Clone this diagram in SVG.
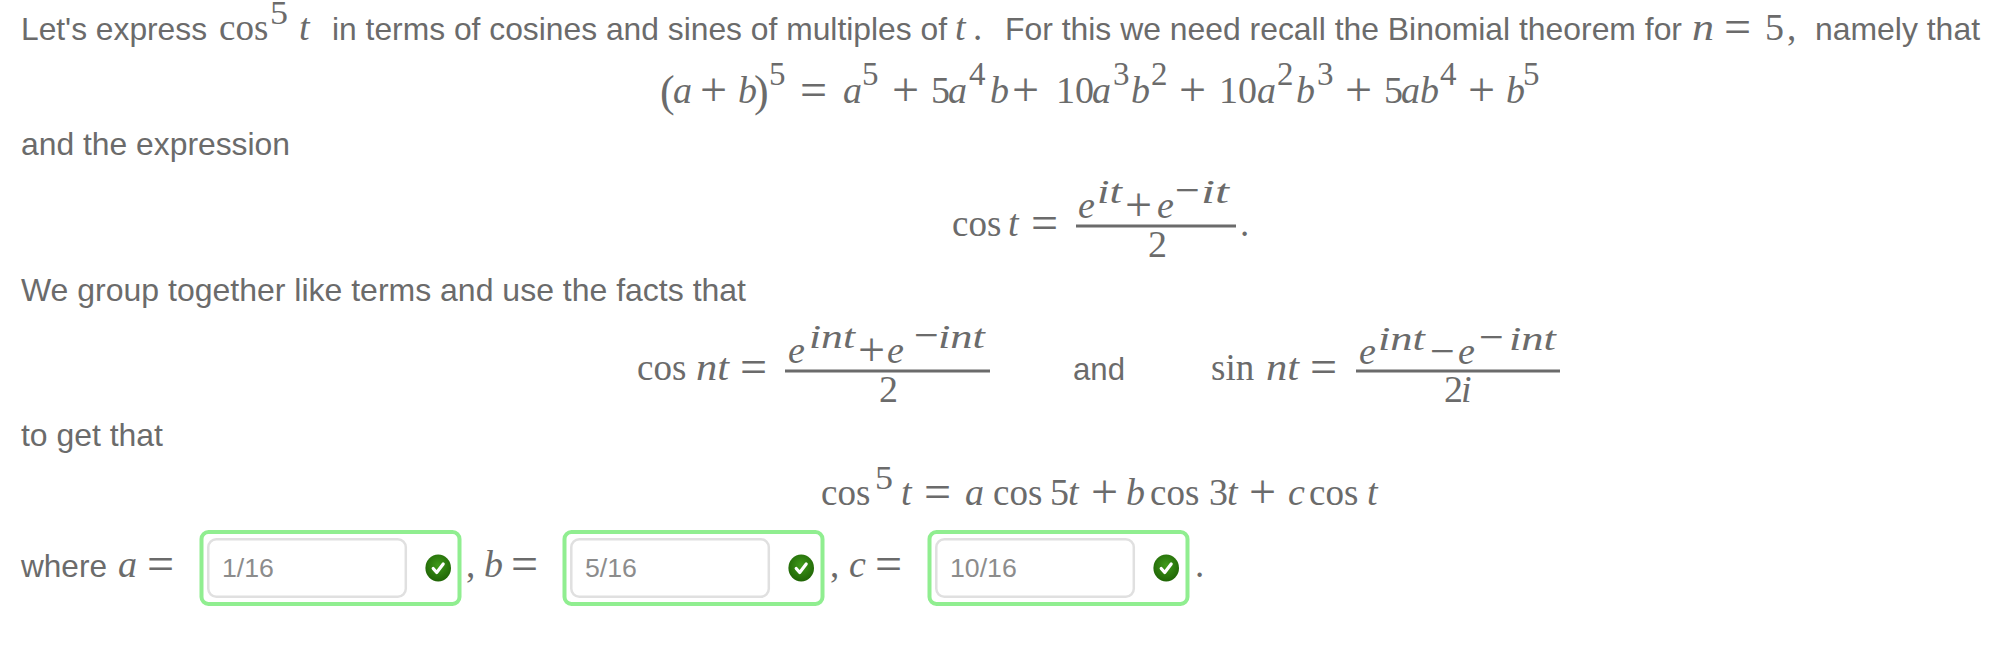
<svg xmlns="http://www.w3.org/2000/svg" width="1995" height="656" viewBox="0 0 1995 656">
<style>
text{fill:#6b6b6b;white-space:pre}
.s{font:31.7px "Liberation Sans",Arial,sans-serif}
.r{font:37px "Liberation Serif","Times New Roman",serif}
.d{font:38px "Liberation Serif","Times New Roman",serif}
.o{font:48px "Liberation Serif","Times New Roman",serif}
.p{font:44px "Liberation Serif","Times New Roman",serif}
.i{font:italic 38px "Liberation Serif","Times New Roman",serif}
.u{font:33px "Liberation Serif","Times New Roman",serif}
.m{font:44px "Liberation Serif","Times New Roman",serif}
.j{font:italic 34px "Liberation Serif","Times New Roman",serif}
.a{font:26.7px "Liberation Sans",Arial,sans-serif;fill:#8c8c8c}
.box{fill:#fff;stroke:#90ee90;stroke-width:4}
.inp{fill:#fff;stroke:#e0e0e0;stroke-width:2.5}
.fr{stroke:#6b6b6b;stroke-width:3}
.ck{fill:none;stroke:#fff;stroke-width:3.2;stroke-linecap:round;stroke-linejoin:round}
</style>
<defs>
<radialGradient id="g" cx="0.5" cy="0.4" r="0.65"><stop offset="0" stop-color="#3f9a1a"/><stop offset="1" stop-color="#1d6004"/></radialGradient>
<g id="answer">
<rect class="box" x="2" y="2" width="258" height="72" rx="7"/>
<rect class="inp" x="8.8" y="9.2" width="197.5" height="57.6" rx="8"/>
<ellipse cx="238.7" cy="38" rx="12.8" ry="13.5" fill="url(#g)"/>
<path class="ck" d="M233.7 38.5l3.5 4 6.5-8.5"/>
</g>
</defs>

<g id="line1">
<text class="s" x="21" y="40" textLength="186" lengthAdjust="spacingAndGlyphs">Let's express</text>
<text class="r" x="219" y="40">cos</text><text class="u" x="270" y="24" textLength="18" lengthAdjust="spacingAndGlyphs">5</text><text class="i" x="299" y="40">t</text>
<text class="s" x="332" y="40" textLength="615" lengthAdjust="spacingAndGlyphs">in terms of cosines and sines of multiples of</text>
<text class="i" x="955" y="40">t</text><text class="r" x="973" y="40">.</text>
<text class="s" x="1005" y="40" textLength="677" lengthAdjust="spacingAndGlyphs">For this we need recall the Binomial theorem for</text>
<text class="i" x="1692" y="40" textLength="22" lengthAdjust="spacingAndGlyphs">n</text><text class="o" x="1724" y="43">=</text><text class="d" x="1765" y="40">5</text><text class="r" x="1787" y="40">,</text>
<text class="s" x="1815" y="40" textLength="165" lengthAdjust="spacingAndGlyphs">namely that</text>
</g>

<g id="binomial">
<text class="p" x="660" y="106">(</text><text class="i" x="673" y="103">a</text><text class="o" x="700" y="106">+</text><text class="i" x="738" y="103">b</text><text class="p" x="754" y="106">)</text><text class="u" x="769" y="85">5</text>
<text class="o" x="800" y="106">=</text><text class="i" x="843" y="103">a</text><text class="u" x="862" y="85">5</text>
<text class="o" x="892" y="106">+</text><text class="d" x="931" y="103">5</text><text class="i" x="948" y="103">a</text><text class="u" x="969" y="85">4</text><text class="i" x="990" y="103">b</text>
<text class="o" x="1012" y="106">+</text><text class="d" x="1056" y="103">10</text><text class="i" x="1092" y="103">a</text><text class="u" x="1113" y="85">3</text><text class="i" x="1131" y="103">b</text><text class="u" x="1151" y="85">2</text>
<text class="o" x="1179" y="106">+</text><text class="d" x="1219" y="103">10</text><text class="i" x="1257" y="103">a</text><text class="u" x="1277" y="85">2</text><text class="i" x="1296" y="103">b</text><text class="u" x="1317" y="85">3</text>
<text class="o" x="1345" y="106">+</text><text class="d" x="1384" y="103">5</text><text class="i" x="1401" y="103">a</text><text class="i" x="1420" y="103">b</text><text class="u" x="1440" y="85">4</text>
<text class="o" x="1468" y="106">+</text><text class="i" x="1506" y="103">b</text><text class="u" x="1523" y="85">5</text>
</g>

<text class="s" x="21" y="155" textLength="269" lengthAdjust="spacingAndGlyphs">and the expression</text>

<g id="cos-def">
<text class="r" x="952" y="236">cos</text><text class="i" x="1008" y="236">t</text><text class="o" x="1031" y="239">=</text>
<text class="i" x="1078" y="218">e</text><text class="j" x="1097" y="203" textLength="25" lengthAdjust="spacingAndGlyphs">it</text><text class="o" x="1125" y="221">+</text><text class="i" x="1157" y="218">e</text><text class="m" x="1175" y="205">−</text><text class="j" x="1201" y="203" textLength="28" lengthAdjust="spacingAndGlyphs">it</text>
<line class="fr" x1="1076" y1="226" x2="1236" y2="226"/>
<text class="d" x="1148" y="257">2</text><text class="r" x="1240" y="236">.</text>
</g>

<text class="s" x="21" y="301" textLength="725" lengthAdjust="spacingAndGlyphs">We group together like terms and use the facts that</text>

<g id="cos-nt">
<text class="r" x="637" y="380">cos</text><text class="i" x="696" y="380" textLength="33" lengthAdjust="spacingAndGlyphs">nt</text><text class="o" x="740" y="383">=</text>
<text class="i" x="788" y="363">e</text><text class="j" x="809" y="348" textLength="46" lengthAdjust="spacingAndGlyphs">int</text><text class="o" x="858" y="366">+</text><text class="i" x="887" y="363">e</text><text class="m" x="914" y="350">−</text><text class="j" x="938" y="348" textLength="47" lengthAdjust="spacingAndGlyphs">int</text>
<line class="fr" x1="785" y1="371" x2="990" y2="371"/>
<text class="d" x="879" y="402">2</text>
</g>
<text class="s" x="1073" y="380" textLength="52" lengthAdjust="spacingAndGlyphs">and</text>
<g id="sin-nt">
<text class="r" x="1211" y="380">sin</text><text class="i" x="1266" y="380" textLength="33" lengthAdjust="spacingAndGlyphs">nt</text><text class="o" x="1310" y="383">=</text>
<text class="i" x="1359" y="364">e</text><text class="j" x="1378" y="350" textLength="47" lengthAdjust="spacingAndGlyphs">int</text><text class="m" x="1430" y="366">−</text><text class="i" x="1458" y="364">e</text><text class="m" x="1479" y="352">−</text><text class="j" x="1509" y="350" textLength="47" lengthAdjust="spacingAndGlyphs">int</text>
<line class="fr" x1="1356" y1="371" x2="1560" y2="371"/>
<text class="d" x="1444" y="402">2</text><text class="i" x="1461" y="402">i</text>
</g>

<text class="s" x="21" y="446" textLength="142" lengthAdjust="spacingAndGlyphs">to get that</text>

<g id="result">
<text class="r" x="821" y="505">cos</text><text class="u" x="875" y="489" textLength="18" lengthAdjust="spacingAndGlyphs">5</text><text class="i" x="901" y="505">t</text><text class="o" x="924" y="508">=</text>
<text class="i" x="965" y="505">a</text><text class="r" x="993" y="505">cos</text><text class="d" x="1050" y="505">5</text><text class="i" x="1068" y="505">t</text><text class="o" x="1091" y="508">+</text>
<text class="i" x="1126" y="505">b</text><text class="r" x="1150" y="505">cos</text><text class="d" x="1209" y="505">3</text><text class="i" x="1227" y="505">t</text><text class="o" x="1249" y="508">+</text>
<text class="i" x="1288" y="505">c</text><text class="r" x="1309" y="505">cos</text><text class="i" x="1367" y="505">t</text>
</g>

<g id="answers">
<text class="s" x="21" y="577" textLength="86" lengthAdjust="spacingAndGlyphs">where</text><text class="i" x="118" y="577">a</text><text class="o" x="147" y="580">=</text>
<g id="answer-a"><use href="#answer" x="199.5" y="530"/><text class="a" x="222" y="577">1/16</text></g>
<text class="r" x="466" y="577">,</text><text class="i" x="484" y="577">b</text><text class="o" x="511" y="580">=</text>
<g id="answer-b"><use href="#answer" x="562.5" y="530"/><text class="a" x="585" y="577">5/16</text></g>
<text class="r" x="830" y="577">,</text><text class="i" x="849" y="577">c</text><text class="o" x="875" y="580">=</text>
<g id="answer-c"><use href="#answer" x="927.5" y="530"/><text class="a" x="950" y="577">10/16</text></g>
<text class="r" x="1195" y="577">.</text>
</g>
</svg>
